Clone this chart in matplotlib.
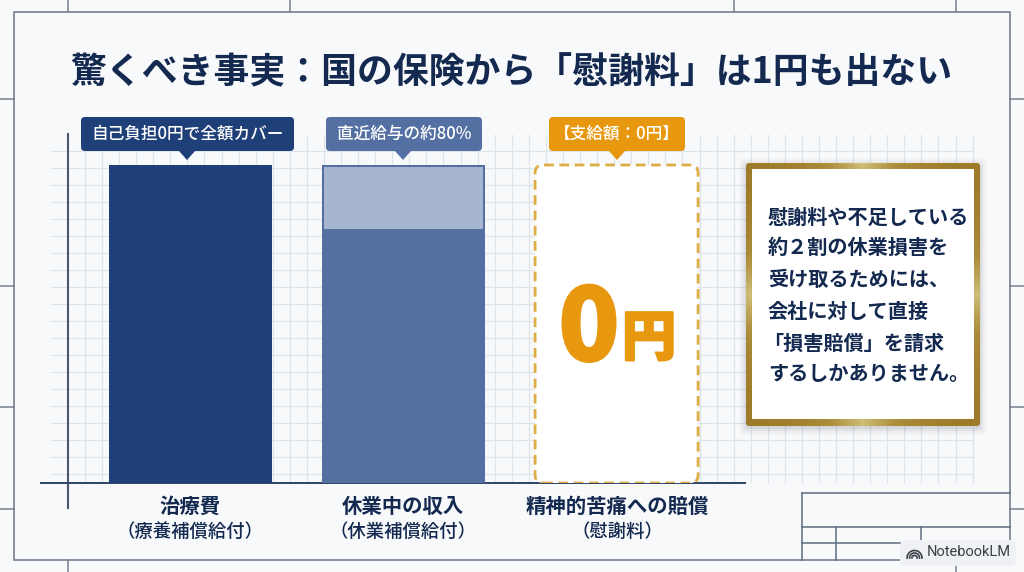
import numpy as np
import matplotlib
matplotlib.use('Agg')
import matplotlib.pyplot as plt
import matplotlib.patheffects as pe
from matplotlib.colors import LinearSegmentedColormap
from matplotlib.patches import FancyBboxPatch, Polygon, Rectangle

plt.rcParams['font.family'] = ['Noto Sans CJK JP', 'DejaVu Sans']

# data
categories = ['治療費', '休業中の収入', '精神的苦痛への賠償']
sub_labels = ['（療養補償給付）', '（休業補償給付）', '（慰謝料）']
covered = [100, 80, 0]
not_covered = [0, 20, 0]
callouts = ['自己負担0円で全額カバー', '直近給与の約80%', '【支給額：0円】']
title = '驚くべき事実：国の保険から「慰謝料」は1円も出ない'
note_lines = ['慰謝料や不足している', '約２割の休業損害を', '受け取るためには、',
              '会社に対して直接', '「損害賠償」を請求', 'するしかありません。']

NAVY = '#13294f'
DARK = '#1f3f78'
MID = '#5470a3'
LIGHT = '#a6b5d0'
ORANGE = '#e8980f'
LINE = '#76808f'

W, H = 1024, 572
fig = plt.figure(figsize=(W / 100, H / 100), dpi=100, facecolor='#f8f9fa')

# pixel layer for the drawing-sheet decoration
bg = fig.add_axes([0, 0, 1, 1], zorder=0)
bg.set_xlim(0, W)
bg.set_ylim(H, 0)
bg.axis('off')

for x in np.arange(85, 973, 17.07):
    bg.plot([x, x], [135, 482], color='#dfe3ea', lw=0.9, zorder=1)
for y in np.arange(151, 481, 17.0):
    bg.plot([51, 973], [y, y], color='#dfe3ea', lw=0.9, zorder=1)

bg.add_patch(Rectangle((14, 12), 996, 548, fill=False, ec=LINE, lw=1.2, zorder=2))
for x in [68, 290, 734, 956]:
    bg.plot([x, x], [0, 12], color=LINE, lw=1.1, zorder=2)
for x in [68, 956]:
    bg.plot([x, x], [560, 572], color=LINE, lw=1.1, zorder=2)
for y in [99, 286, 407, 509]:
    bg.plot([0, 14], [y, y], color=LINE, lw=1.1, zorder=2)
    bg.plot([1010, 1024], [y, y], color=LINE, lw=1.1, zorder=2)

# title block bottom right
for xs, ys in [([802, 802], [493, 560]), ([802, 1010], [493, 493]), ([802, 1010], [527, 527]),
               ([802, 905], [543, 543]), ([836, 836], [527, 560]), ([921, 921], [527, 540])]:
    bg.plot(xs, ys, color='#5d6b80', lw=1.1, zorder=2)

# chart layer: x runs over the categories, y is percent of the bar height
ax = fig.add_axes([41 / W, 1 - 483 / H, (745 - 41) / W, 348 / H], zorder=1)
ax.patch.set_alpha(0)
px_per_cat = 213.3
px_per_pct = 3.18
ax.set_xlim((41 - 190) / px_per_cat, (745 - 190) / px_per_cat)
ax.set_ylim(0, 348 / px_per_pct)
for s in ['top', 'left', 'right']:
    ax.spines[s].set_visible(False)
ax.spines['bottom'].set_color('#2f4468')
ax.spines['bottom'].set_linewidth(1.4)
ax.set_yticks([])
ax.set_xticks([])

xpos = np.arange(len(categories))
bar_w = 163 / px_per_cat
ax.bar(xpos[0], covered[0], bar_w, color=DARK, zorder=3)
ax.bar(xpos[1], covered[1] + not_covered[1], bar_w, color=MID, zorder=3)
# light part sits inside the mid blue outline
ax.bar(xpos[1], not_covered[1] - 2 / px_per_pct, bar_w - 4 / px_per_cat, bottom=covered[1],
       color=LIGHT, zorder=3)
# third bar is 0: the dashed box is an empty slot at full height
ax.add_patch(FancyBboxPatch((xpos[2] - bar_w / 2, 0), bar_w, covered[0],
                            boxstyle=f'round,pad=0,rounding_size={8 / px_per_cat}',
                            mutation_aspect=px_per_cat / px_per_pct,
                            fc='white', ec='#dcae45', lw=2, ls=(0, (3.5, 2)), zorder=3))

# y axis stub crosses the baseline
bg.plot([68, 68], [134, 508], color='#4a586d', lw=1.5, zorder=4)

# callouts
boxes = [(81, 294, 187), (326, 482, 403), (549, 685, 617)]
colors = [DARK, MID, ORANGE]
for (x0, x1, tip), col, txt in zip(boxes, colors, callouts):
    bg.add_patch(FancyBboxPatch((x0 + 4, 121), x1 - x0 - 8, 26, boxstyle='round,pad=4,rounding_size=4',
                                fc=col, ec='none', zorder=5))
    bg.add_patch(Polygon([(tip - 8, 151), (tip + 8, 151), (tip, 160)], fc=col, ec='none', zorder=5))
    bg.text((x0 + x1) / 2, 134, txt, color='white', fontsize=12, fontweight='medium',
            ha='center', va='center', zorder=6)

# title and category labels
bg.text(511, 73, title, color=NAVY, fontsize=25.8, fontweight='bold', ha='center', va='center', zorder=6)
for cx, a, b in zip([190, 403, 617], categories, sub_labels):
    bg.text(cx, 506, a, color=NAVY, fontsize=14.7, fontweight='bold', ha='center', va='center', zorder=6)
    bg.text(cx, 532, b, color=NAVY, fontsize=13.2, fontweight='medium', ha='center', va='center', zorder=6)

# 0円 in the dashed box, stroked a little to get the heavy weight
fg = fig.add_axes([0, 0, 1, 1], zorder=2)
fg.set_xlim(0, W)
fg.set_ylim(H, 0)
fg.axis('off')
heavy = [pe.withStroke(linewidth=1.6, foreground=ORANGE)]
fg.text(589, 331, '0', color=ORANGE, fontsize=72, fontweight='black', ha='center', va='center', path_effects=heavy)
fg.text(649, 339, '円', color=ORANGE, fontsize=39, fontweight='black', ha='center', va='center', path_effects=heavy)

# note box: soft shadow, gold frame (bright in the middle of each side), white inside
for grow, alpha in zip([7, 5, 3, 1], [0.025, 0.035, 0.05, 0.07]):
    fg.add_patch(FancyBboxPatch((746 - grow + 2, 163 - grow + 4), 234 + 2 * grow - 4, 263 + 2 * grow - 4,
                                boxstyle='round,pad=2,rounding_size=4', fc='#303a4c', ec='none', alpha=alpha))
gold = LinearSegmentedColormap.from_list('gold', ['#b68a24', '#c7a038', '#f0da82'])
u, v = np.meshgrid(np.linspace(0, 1, 234), np.linspace(0, 1, 263))
across = 1 - np.abs(2 * u - 1)
down = 1 - np.abs(2 * v - 1)
sides = (u < 6 / 234) | (u > 228 / 234)
shade = np.where(sides, down, across) ** 2
im = fg.imshow(shade, cmap=gold, extent=(746, 980, 426, 163), aspect='auto')
frame = FancyBboxPatch((748, 165), 230, 259, boxstyle='round,pad=2,rounding_size=3',
                       transform=fg.transData, fc='none', ec='none')
fg.add_patch(frame)
im.set_clip_path(frame)
fg.set_xlim(0, W)
fg.set_ylim(H, 0)
fg.add_patch(Rectangle((752, 169), 222, 250, fc='white', ec='none', zorder=3))
for x, y, line in zip([768, 768, 768, 768, 763, 768], [217, 247, 279, 311, 343, 373], note_lines):
    fg.text(x, y, line, color=NAVY, fontsize=14.5, fontweight='bold', ha='left', va='center', zorder=4)

# badge
fg.add_patch(FancyBboxPatch((904, 544), 108, 18, boxstyle='round,pad=4,rounding_size=6',
                            fc='#f0f1f4', ec='none', zorder=5))
t = np.linspace(np.pi, 2 * np.pi, 30)
for r in [7.5, 5, 2.6]:
    fg.plot(914.5 + r * np.cos(t), 558 + r * np.sin(t), color='#3c4048', lw=1.2, zorder=6)
fg.text(927, 552, 'NotebookLM', color='#3c4048', fontsize=10.5, family=['Roboto', 'DejaVu Sans'],
        ha='left', va='center', zorder=6)

plt.savefig('out.png', dpi=100, facecolor=fig.get_facecolor())
